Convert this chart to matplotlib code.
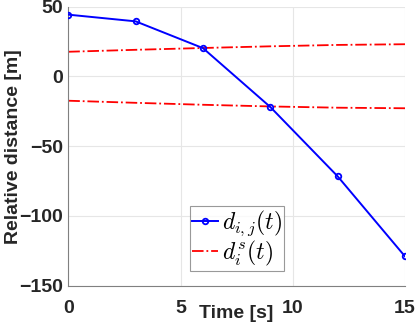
import matplotlib
matplotlib.use("Agg")
import matplotlib.pyplot as plt

t_blue = [0, 3, 6, 9, 12, 15]
d_ij = [44.3, 39.5, 20.3, -21.9, -71.6, -129.0]
t_red = [0, 3, 6, 9, 12, 15]
d_upper = [17.7, 19.1, 20.4, 21.6, 22.6, 23.1]
d_lower = [-17.4, -18.9, -20.3, -21.5, -22.4, -22.8]

plt.rcParams['font.family'] = ['Liberation Sans', 'DejaVu Sans']
plt.rcParams['mathtext.fontset'] = 'cm'

fig = plt.figure(figsize=(4.15, 3.24), dpi=100)
ax = fig.add_axes([68.3/415, 1 - 285.7/324, 336.7/415, 279/324])

ax.plot(t_blue, d_ij, color='blue', lw=1.4, marker='o', ms=4, mfc='none',
        mew=1.3, label=r'$d_{i,j}(t)$', zorder=3)
ax.plot(t_red, d_upper, color='red', lw=1.3, ls='-.', label=r'$d_i^s(t)$', zorder=2)
ax.plot(t_red, d_lower, color='red', lw=1.3, ls='-.', zorder=2)

ax.set_xlim(0, 15)
ax.set_ylim(-150, 50)
ax.set_xticks([0, 5, 10, 15])
ax.set_yticks([-150, -100, -50, 0, 50])
ax.grid(True, color='#e6e6e6', lw=0.8)
ax.set_axisbelow(True)
for s in ['top', 'right']:
    ax.spines[s].set_visible(False)
for s in ['left', 'bottom']:
    ax.spines[s].set_color('#808080')
ax.tick_params(length=0, labelsize=14, colors='#262626')
ax.tick_params(axis='y', pad=4)
ax.tick_params(axis='x', pad=10.5)
for lab in ax.get_xticklabels() + ax.get_yticklabels():
    lab.set_fontweight('bold')

ax.set_ylabel('Relative distance [m]', fontsize=14, fontweight='bold',
              color='#262626', labelpad=-2)
ax.set_xlabel('Time [s]', fontsize=14, fontweight='bold', color='#262626',
              labelpad=-9)

leg = ax.legend(loc='lower left', bbox_to_anchor=(0.361, 0.054), fontsize=17,
                frameon=True, fancybox=False, edgecolor='#808080',
                handlelength=1.1, handletextpad=0.15, borderpad=0.1,
                labelspacing=0.05, borderaxespad=0)
leg.get_frame().set_linewidth(0.8)

fig.savefig('out.png', dpi=100)
